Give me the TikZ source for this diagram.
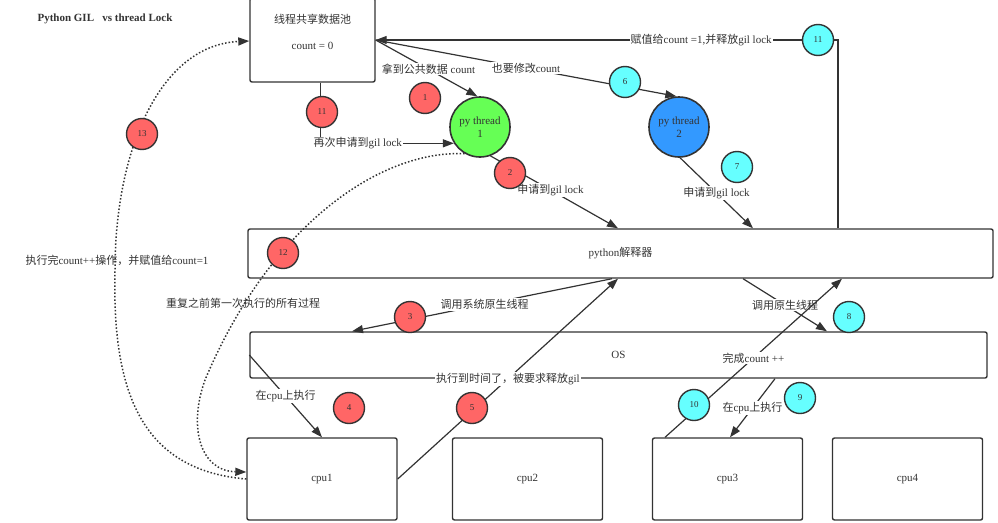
\documentclass[tikz,border=0pt]{standalone}
\usepackage{fontspec}
\setmainfont{Liberation Serif}
\newfontfamily\cjk{Noto Sans CJK SC}
\newcommand{\zh}[1]{{\cjk #1}}
\usetikzlibrary{arrows.meta}
\definecolor{ink}{HTML}{333333}
\definecolor{badgered}{HTML}{FF6666}
\definecolor{badgecyan}{HTML}{66FFFF}
\definecolor{threadgreen}{HTML}{66FF55}
\definecolor{threadblue}{HTML}{3399FF}
\begin{document}
\begin{tikzpicture}[x=1pt, y=-1pt, font=\fontsize{11}{13}\selectfont, text=ink,
    box/.style={draw=ink, line width=1.4pt, rounded corners=2pt, inner sep=0pt},
    thread/.style={circle, draw=ink, line width=1.6pt, minimum size=60pt, inner sep=0pt, align=center},
    badge/.style={circle, draw=ink, line width=1.4pt, minimum size=31pt, inner sep=0pt, font=\fontsize{9}{10}\selectfont},
    hot/.style={badge, fill=badgered},
    cool/.style={badge, fill=badgecyan},
    link/.style={draw=ink, line width=1.2pt, -{Triangle[length=11pt, width=8pt]}},
    rerun/.style={link, line width=1.5pt, dotted},
    lbl/.style={fill=white, inner sep=1pt}]
    \useasboundingbox (0,0) rectangle (998,522);
    \node [font=\fontsize{11}{13}\selectfont\bfseries] (title) at (105,19) {Python GIL\ \ \ vs thread Lock};
    \node [box, minimum width=125pt, minimum height=84pt] (pool) at (312.5,40) {};
    \node (pooltitle) at (312.5,19) {\zh{线程共享数据池}};
    \node (poolcount) at (312.5,46) {count = 0};
    \node [thread, fill=threadgreen] (t1) at (480,127) {py thread\\1};
    \node [thread, fill=threadblue] (t2) at (679,127) {py thread\\2};
    \node [box, minimum width=745pt, minimum height=49pt] (interp) at (620.5,253.5) {python\zh{解释器}};
    \node [box, minimum width=737pt, minimum height=46pt] (os) at (618.5,355) {OS};
    \node [box, minimum width=150pt, minimum height=82pt] (cpu1) at (322,479) {cpu1};
    \node [box, minimum width=150pt, minimum height=82pt] (cpu2) at (527.5,479) {cpu2};
    \node [box, minimum width=150pt, minimum height=82pt] (cpu3) at (727.5,479) {cpu3};
    \node [box, minimum width=150pt, minimum height=82pt] (cpu4) at (907.5,479) {cpu4};

    \draw [link] (pool.east) -- node [lbl, pos=0.52] {\zh{拿到公共数据} count} (t1.95);
    \draw [link] (pool.east) -- node [lbl, pos=0.5] {\zh{也要修改}count} (t2.95);
    \draw [link] ([xshift=217.5pt]interp.north) |- node [lbl, pos=0.648] {\zh{赋值给}count =1,\zh{并释放}gil lock} (pool.east);
    \draw [link] ([xshift=8pt]pool.south) |- node [lbl, pos=0.64] {\zh{再次申请到}gil lock} (t1.212);
    \draw [link] (t1.290) -- node [lbl, pos=0.47] {\zh{申请到}gil lock} ([xshift=-2.5pt]interp.north);
    \draw [link] (t2.272) -- node [lbl, pos=0.5] {\zh{申请到}gil lock} ([xshift=132.5pt]interp.north);
    \draw [link] ([xshift=-8.5pt]interp.south) -- node [lbl, pos=0.49] {\zh{调用系统原生线程}} ([xshift=-266.5pt]os.north);
    \draw [link] (os.west) -- node [lbl] {\zh{在}cpu\zh{上执行}} (cpu1.north);
    \draw [link] (cpu1.east) -- node [lbl] {\zh{执行到时间了，被要求释放}gil} ([xshift=-2.5pt]interp.south);
    \draw [link] ([xshift=122.5pt]interp.south) -- node [lbl] {\zh{调用原生线程}} ([xshift=208.5pt]os.north);
    \draw [link] ([xshift=156.5pt]os.south) -- node [lbl] {\zh{在}cpu\zh{上执行}} ([xshift=2.5pt]cpu3.north);
    \draw [link] ([xshift=-62.5pt]cpu3.north) -- node [lbl] {\zh{完成}count ++} ([xshift=221.5pt]interp.south);

    \draw [rerun] (t1.240) .. controls (380,150) and (270,225) .. (205,380) .. controls (188,427) and (200,471) .. ([yshift=7pt]cpu1.west);
    \draw [rerun] (cpu1.west) .. controls (140,470) and (112,390) .. (115,270) .. controls (115,150) and (160,45) .. ([yshift=-1pt]pool.west);
    \node (redo) at (243,303) {\zh{重复之前第一次执行的所有过程}};
    \node (assign) at (117,260) {\zh{执行完}count++\zh{操作，并赋值给}count=1};

    \node [hot] (b1) at (425,98) {1};
    \node [hot] (b2) at (510,173) {2};
    \node [hot] (b3) at (410,317) {3};
    \node [hot] (b4) at (349,408) {4};
    \node [hot] (b5) at (472,408) {5};
    \node [cool] (b6) at (625,82) {6};
    \node [cool] (b7) at (737,167) {7};
    \node [cool] (b8) at (849,317) {8};
    \node [cool] (b9) at (800,398) {9};
    \node [cool] (b10) at (694,405) {10};
    \node [cool] (b11c) at (818,40) {11};
    \node [hot] (b11) at (322,112) {11};
    \node [hot] (b12) at (283,253) {12};
    \node [hot] (b13) at (142,134) {13};
  \end{tikzpicture}
\end{document}
